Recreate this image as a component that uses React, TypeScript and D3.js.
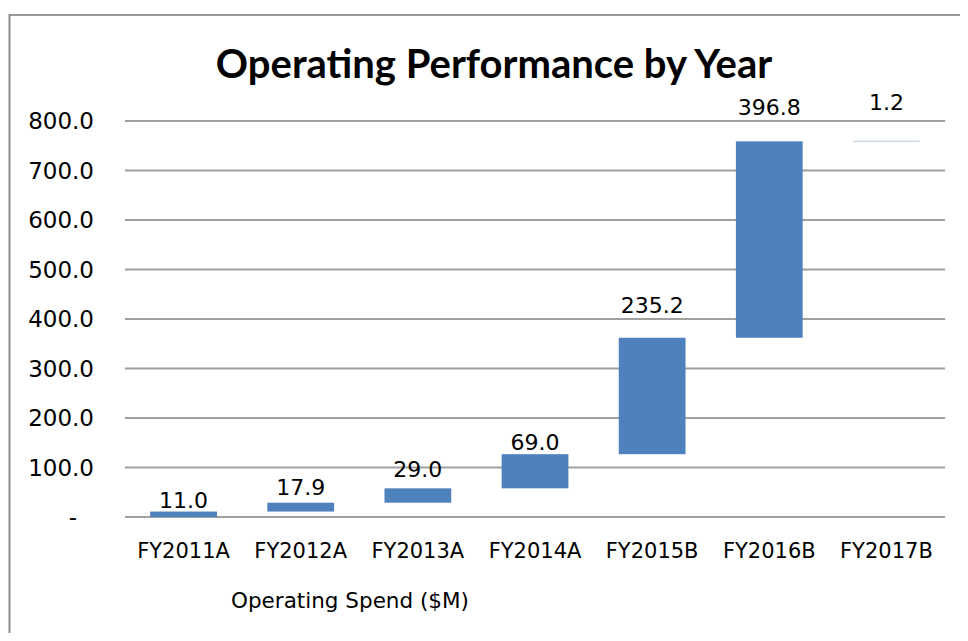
import React from "react";
import * as d3 from "d3";

const categories = ["FY2011A", "FY2012A", "FY2013A", "FY2014A", "FY2015B", "FY2016B", "FY2017B"];
const increments = [11.0, 17.9, 29.0, 69.0, 235.2, 396.8, 1.2];
const yTicks = [0, 100, 200, 300, 400, 500, 600, 700, 800];
const labelLift = [4, 8, 11, 4, 25, 26, 31];

const W = 968;
const H = 641;
const plot = { left: 125, right: 945, top: 121, bottom: 517 };

export default function App() {
  const x = d3.scaleBand<string>().domain(categories).range([plot.left, plot.right]).paddingInner(0.43).paddingOuter(0.215);
  const y = d3.scaleLinear().domain([0, 800]).range([plot.bottom, plot.top]);
  let cum = 0;
  const bars = increments.map((v, i) => {
    const start = cum;
    cum += v;
    return { cat: categories[i], v, start, end: cum, i };
  });
  const numFont = "'DejaVu Sans', sans-serif";
  return (
    <div style={{ margin: -8 }}>
      <svg width={W} height={H} style={{ display: "block", background: "#fff" }}>
        <line x1={9.5} x2={W} y1={15} y2={15} stroke="#9a9a9a" strokeWidth={2} />
        <line x1={9.5} x2={9.5} y1={14} y2={H} stroke="#8a8a8a" strokeWidth={2} />
        <text x={494} y={78} textAnchor="middle" fontFamily="Lato, sans-serif" fontWeight={700} fontSize={40} fill="#000">
          Operating Performance by Year
        </text>
        {yTicks.map((t) => (
          <g key={t}>
            <line x1={plot.left} x2={plot.right} y1={y(t)} y2={y(t)} stroke="#a0a0a0" strokeWidth={2} />
            <text
              x={t === 0 ? 73 : 94}
              y={y(t) + 8}
              textAnchor={t === 0 ? "middle" : "end"}
              fontFamily={numFont}
              fontSize={23}
              fill="#000"
            >
              {t === 0 ? "-" : d3.format(".1f")(t)}
            </text>
          </g>
        ))}
        {bars.map((b) => {
          const top = y(b.end);
          const h = Math.max(y(b.start) - top, 1);
          return (
            <rect key={b.cat} x={x(b.cat)} y={top} width={x.bandwidth()} height={h} fill={b.v < 5 ? "#b8cce4" : "#4f81bd"} />
          );
        })}
        {bars.map((b) => (
          <text
            key={"l" + b.cat}
            x={(x(b.cat) ?? 0) + x.bandwidth() / 2}
            y={y(b.end) - labelLift[b.i]}
            textAnchor="middle"
            fontFamily={numFont}
            fontSize={22}
            fill="#000"
          >
            {d3.format(".1f")(b.v)}
          </text>
        ))}
        {categories.map((c) => (
          <text key={c} x={(x(c) ?? 0) + x.bandwidth() / 2} y={558} textAnchor="middle" fontFamily={numFont} fontSize={21} fill="#000">
            {c}
          </text>
        ))}
        <text x={350} y={608} textAnchor="middle" fontFamily={numFont} fontSize={21.5} fill="#000">
          Operating Spend ($M)
        </text>
      </svg>
    </div>
  );
}
